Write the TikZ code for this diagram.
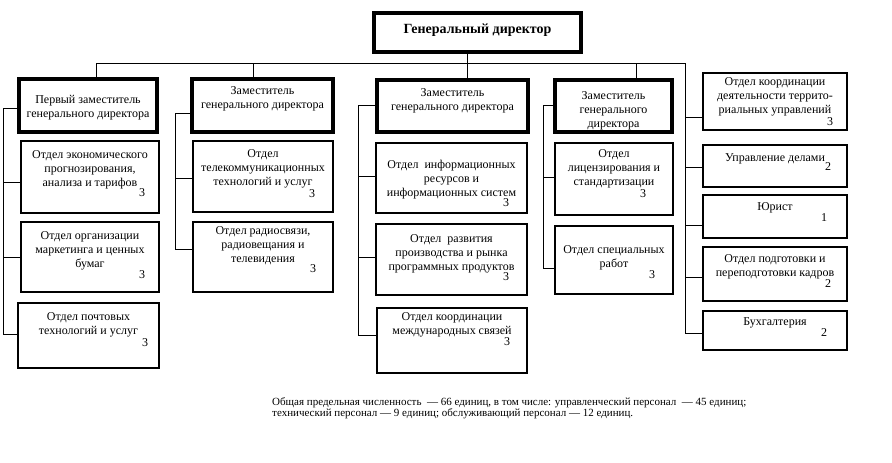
\documentclass[tikz,border=0pt]{standalone}
\usepackage{fontspec}
\setmainfont{Liberation Serif}
\newcommand\orgbox[6]{\node[#1, minimum width={(#5-#3)*1pt}, minimum height={(#6-#4)*1pt}, anchor=north west] (#2) at (#3,#4) {};}
\begin{document}
\begin{tikzpicture}[x=1pt,y=-1pt,
  dept/.style={draw, rectangle, line width=1.8pt, inner sep=0pt, outer sep=0pt},
  head/.style={draw, rectangle, line width=3.6pt, inner sep=0pt, outer sep=0pt},
  txt/.style={align=center, inner sep=0pt, font=\fontsize{12}{14}\selectfont, anchor=north, yshift=2.5pt, execute at begin node=\strut},
  num/.style={inner sep=0pt, font=\fontsize{12}{14}\selectfont},
  conn/.style={line width=1pt}]
\useasboundingbox (0,0) rectangle (892,463);
% general director
\orgbox{head}{gd}{374}{13}{581}{52}
\node[inner sep=0pt, font=\fontsize{14}{16}\selectfont\bfseries] (gdt) at (477.5,30) {Генеральный директор};
% deputies
\orgbox{head}{d1}{19}{79}{157}{132}
\orgbox{head}{d2}{192}{79}{333}{132}
\orgbox{head}{d3}{377}{80}{528}{132}
\orgbox{head}{d4}{555}{80}{672}{132}
\node[txt] at (d1.north |- 0,98) {Первый заместитель\\генерального директора};
\node[txt] at (d2.north |- 0,89) {Заместитель\\генерального директора};
\node[txt] at (d3.north |- 0,91) {Заместитель\\генерального директора};
\node[txt] at (d4.north |- 0,94) {Заместитель\\генерального\\директора};
% column 1
\orgbox{dept}{a1}{21}{141}{159}{213}
\orgbox{dept}{a2}{21}{222}{159}{292}
\orgbox{dept}{a3}{18}{303}{159}{368}
\node[txt] at (a1.north |- 0,153) {Отдел экономического\\прогнозирования,\\анализа и тарифов};
\node[num] at (142,193) {3};
\node[txt] at (a2.north |- 0,234) {Отдел организации\\маркетинга и ценных\\бумаг};
\node[num] at (142,275) {3};
\node[txt] at (a3.north |- 0,315) {Отдел почтовых\\технологий и услуг};
\node[num] at (145,343) {3};
% column 2
\orgbox{dept}{b1}{193}{141}{333}{212}
\orgbox{dept}{b2}{193}{222}{333}{292}
\node[txt] at (b1.north |- 0,152) {Отдел\\телекоммуникационных\\технологий и услуг};
\node[num] at (312,194) {3};
\node[txt] at (b2.north |- 0,229) {Отдел радиосвязи,\\радиовещания и\\телевидения};
\node[num] at (313,269) {3};
% column 3
\orgbox{dept}{c1}{376}{143}{527}{213}
\orgbox{dept}{c2}{376}{224}{527}{295}
\orgbox{dept}{c3}{377}{308}{527}{373}
\node[txt] at (c1.north |- 0,162) {Отдел\ \ информационных\\ресурсов и\\информационных систем};
\node[num] at (506,203) {3};
\node[txt] at (c2.north |- 0,237) {Отдел\ \ развития\\производства и рынка\\программных продуктов};
\node[num] at (506,277) {3};
\node[txt] at (c3.north |- 0,315) {Отдел координации\\международных связей};
\node[num] at (507,342) {3};
% column 4
\orgbox{dept}{f1}{555}{143}{673}{215}
\orgbox{dept}{f2}{555}{226}{673}{294}
\node[txt] at (f1.north |- 0,152) {Отдел\\лицензирования и\\стандартизации};
\node[num] at (643,194) {3};
\node[txt] at (f2.north |- 0,248) {Отдел специальных\\работ};
\node[num] at (652,275) {3};
% right column
\orgbox{dept}{e1}{703}{73}{847}{130}
\orgbox{dept}{e2}{703}{145}{847}{187}
\orgbox{dept}{e3}{703}{195}{847}{238}
\orgbox{dept}{e4}{703}{247}{847}{301}
\orgbox{dept}{e5}{703}{311}{847}{350}
\node[txt] at (e1.north |- 0,80) {Отдел координации\\деятельности террито-\\риальных управлений};
\node[num] at (830,122) {3};
\node[txt] at (e2.north |- 0,154) {Управление делами};
\node[num] at (828,167) {2};
\node[txt] at (e3.north |- 0,203) {Юрист};
\node[num] at (824,218) {1};
\node[txt] at (e4.north |- 0,257) {Отдел подготовки и\\переподготовки кадров};
\node[num] at (828,284) {2};
\node[txt] at (e5.north |- 0,318) {Бухгалтерия};
\node[num] at (824,333) {2};
% connectors: bus
\coordinate (bL) at (96,63);
\coordinate (bR) at (685,63);
\coordinate (v2) at (253,63);
\coordinate (v3) at (467,63);
\coordinate (v4) at (636,63);
\draw[conn] (bL |- d1.north) -- (bL) -- (bR) -- (bR |- 0,333) -- (e5.west |- 0,333);
\draw[conn] (v2) -- (v2 |- d2.north);
\draw[conn] (v3 |- gd.south) -- (v3 |- d3.north);
\draw[conn] (v4) -- (v4 |- d4.north);
\draw[conn] (e1.west |- 0,117) -- (bR |- 0,117);
\draw[conn] (e2.west |- 0,167) -- (bR |- 0,167);
\draw[conn] (e3.west |- 0,225) -- (bR |- 0,225);
\draw[conn] (e4.west |- 0,277) -- (bR |- 0,277);
% column 1 trunk
\coordinate (L1) at (3,108);
\coordinate (L2) at (3,334);
\draw[conn] (d1.west |- L1) -- (L1) -- (L2) -- (a3.west |- L2);
\draw[conn] (a1.west |- 0,182) -- (L1 |- 0,182);
\draw[conn] (a2.west |- 0,257) -- (L1 |- 0,257);
% column 2 trunk
\coordinate (M1) at (175,113);
\coordinate (M2) at (175,249);
\draw[conn] (d2.west |- M1) -- (M1) -- (M2) -- (b2.west |- M2);
\draw[conn] (b1.west |- 0,178) -- (M1 |- 0,178);
% column 3 trunk
\coordinate (N1) at (358,105);
\coordinate (N2) at (358,335);
\draw[conn] (d3.west |- N1) -- (N1) -- (N2) -- (c3.west |- N2);
\draw[conn] (c1.west |- 0,176) -- (N1 |- 0,176);
\draw[conn] (c2.west |- 0,257) -- (N1 |- 0,257);
% column 4 trunk
\coordinate (P1) at (543,105);
\coordinate (P2) at (543,268);
\draw[conn] (d4.west |- P1) -- (P1) -- (P2) -- (f2.west |- P2);
\draw[conn] (f1.west |- 0,177) -- (P1 |- 0,177);
% footnote
\node[align=left, inner sep=0pt, anchor=north west, yshift=3pt, font=\fontsize{11}{11.5}\selectfont, execute at begin node=\strut] (note) at (272,400) {Общая предельная численность\ \ — 66 единиц, в том числе: управленческий персонал\ \ — 45 единиц;\\технический персонал — 9 единиц; обслуживающий персонал — 12 единиц.};
\end{tikzpicture}
\end{document}
